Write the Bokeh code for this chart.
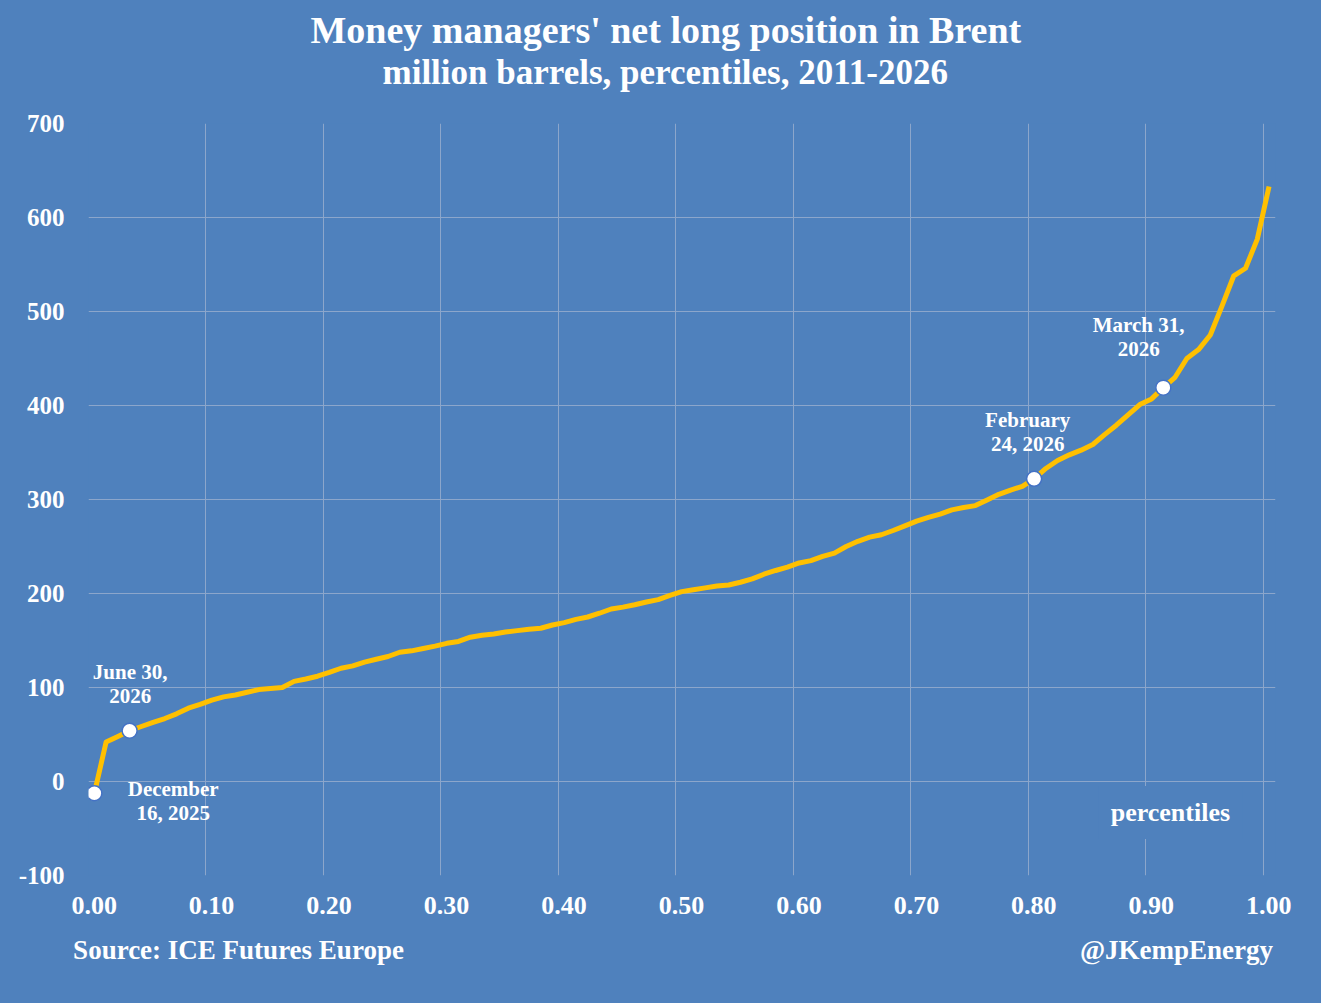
from bokeh.plotting import figure
from bokeh.models import (ColumnDataSource, Label, Title, FixedTicker, LinearAxis,
                          PrintfTickFormatter, Range1d)
from bokeh.embed import file_html
from bokeh.resources import INLINE

# ---------------- data ----------------
percentiles = [
    0.005, 0.015, 0.025, 0.035, 0.045, 0.055, 0.065, 0.075, 0.085, 0.095,
    0.105, 0.115, 0.125, 0.135, 0.145, 0.155, 0.165, 0.175, 0.185, 0.195,
    0.205, 0.215, 0.225, 0.235, 0.245, 0.255, 0.265, 0.275, 0.285, 0.295,
    0.305, 0.315, 0.325, 0.335, 0.345, 0.355, 0.365, 0.375, 0.385, 0.395,
    0.405, 0.415, 0.425, 0.435, 0.445, 0.455, 0.465, 0.475, 0.485, 0.495,
    0.505, 0.515, 0.525, 0.535, 0.545, 0.555, 0.565, 0.575, 0.585, 0.595,
    0.605, 0.615, 0.625, 0.635, 0.645, 0.655, 0.665, 0.675, 0.685, 0.695,
    0.705, 0.715, 0.725, 0.735, 0.745, 0.755, 0.765, 0.775, 0.785, 0.795,
    0.805, 0.815, 0.825, 0.835, 0.845, 0.855, 0.865, 0.875, 0.885, 0.895,
    0.905, 0.915, 0.925, 0.935, 0.945, 0.955, 0.965, 0.975, 0.985, 0.995,
    1.005,
]
net_long = [
    -12.5, 42, 48, 54, 58.5, 63, 67, 72, 78, 82,
    86.5, 90, 92, 95, 97.8, 99, 100, 106.5, 109, 112,
    116, 120.5, 123, 127, 130, 133, 137.5, 139, 141.5, 144,
    147, 149, 153.5, 155.5, 157, 159, 160.5, 162, 163, 166.5,
    169, 172.5, 175, 179, 183.5, 185.5, 188, 191, 193.5, 198,
    202, 204, 206, 208, 209, 212, 215.5, 220.5, 224.5, 228,
    232.5, 235, 239.5, 243, 250, 255.5, 260, 262.5, 267, 272,
    277, 281, 284.5, 289, 291.5, 293.5, 299.5, 305.5, 310, 314,
    322, 333, 341.5, 347.5, 352.5, 358.5, 369, 379, 390, 401,
    407, 419, 430, 450, 459.5, 475, 506, 538, 546, 577,
    633,
]
highlight_idx = [0, 3, 80, 91]
highlight_labels = [
    ["December", "16, 2025"],
    ["June 30,", "2026"],
    ["February", "24, 2026"],
    ["March 31,", "2026"],
]
x_ticks = [0.0, 0.1, 0.2, 0.3, 0.4, 0.5, 0.6, 0.7, 0.8, 0.9, 1.0]
y_ticks = [-100, 0, 100, 200, 300, 400, 500, 600, 700]

title_lines = ["Money managers' net long position in Brent",
               "million barrels, percentiles, 2011-2026"]
source_text = "Source: ICE Futures Europe"
handle_text = "@JKempEnergy"
axis_note = "percentiles"

# ---------------- style ----------------
BG = "#4F81BD"
GRID = "#8CA6CB"
LINE = "#FFC000"
FONT = "Liberation Serif"
LEFT, RIGHT, TOP, BOTTOM = 88, 46, 123, 128
W, H = 1321, 1003
X_MIN, X_MAX = 0, 1.0105
LABEL_SHIFT = 0.0048   # tick labels sit slightly right of their gridlines

p = figure(width=W, height=H, output_backend="svg", toolbar_location=None,
           x_range=Range1d(X_MIN, X_MAX), y_range=Range1d(-100, 700),
           min_border_left=LEFT, min_border_right=RIGHT, min_border_top=TOP,
           min_border_bottom=BOTTOM)
p.background_fill_color = BG
p.border_fill_color = None      # transparent border (page background is BG)
p.outline_line_color = None

# ---- title: spacer + two lines (first added sits closest to the plot)
p.add_layout(Title(text=" ", standoff=19, text_font_size="10px",
                   text_color=BG), "above")
p.add_layout(Title(text=title_lines[1], align="left", offset=294, standoff=0,
                   text_color="white", text_font=FONT, text_font_style="bold",
                   text_font_size="35px"), "above")
p.add_layout(Title(text=title_lines[0], align="left", offset=222, standoff=0,
                   text_color="white", text_font=FONT, text_font_style="bold",
                   text_font_size="38px"), "above")

p.extra_x_ranges = {"labels": Range1d(X_MIN - LABEL_SHIFT, X_MAX - LABEL_SHIFT),
                    "page": Range1d(LEFT, W - RIGHT)}

for ax in (p.xaxis[0], p.yaxis[0]):
    ax.axis_line_color = None
    ax.major_tick_line_color = None
    ax.minor_tick_line_color = None
    ax.major_tick_out = 0
    ax.major_tick_in = 0
    ax.minor_tick_out = 0
    ax.major_label_text_color = "white"
    ax.major_label_text_font = FONT
    ax.major_label_text_font_style = "bold"

p.xaxis[0].x_range_name = "labels"
p.xaxis[0].ticker = FixedTicker(ticks=x_ticks)
p.xaxis[0].formatter = PrintfTickFormatter(format="%.2f")
p.xaxis[0].major_label_text_font_size = "26px"
p.xaxis[0].major_label_standoff = 21

p.yaxis[0].ticker = FixedTicker(ticks=y_ticks)
p.yaxis[0].formatter = PrintfTickFormatter(format="%d")
p.yaxis[0].major_label_text_font_size = "25px"
p.yaxis[0].major_label_standoff = 24

p.xgrid[0].ticker = FixedTicker(ticks=x_ticks)
p.ygrid[0].ticker = FixedTicker(ticks=y_ticks)
for g in (p.xgrid[0], p.ygrid[0]):
    g.grid_line_color = GRID
    g.grid_line_width = 1

# ---- footer: a second bottom axis in page-pixel units carrying the two notes
footer_pos = {238: source_text, 1176: handle_text}
foot_axis = LinearAxis(x_range_name="page",
                       ticker=FixedTicker(ticks=list(footer_pos.keys())),
                       major_label_overrides=footer_pos,
                       major_label_standoff=18,
                       axis_line_color=None, major_tick_line_color=None,
                       minor_tick_line_color=None, major_tick_out=0,
                       major_tick_in=0, minor_tick_out=0,
                       major_label_text_color="white",
                       major_label_text_font=FONT,
                       major_label_text_font_style="bold",
                       major_label_text_font_size="27px")
p.add_layout(foot_axis, "below")

src = ColumnDataSource(dict(x=percentiles, y=net_long))
p.line("x", "y", source=src, line_color=LINE, line_width=5, line_join="round")

hsrc = ColumnDataSource(dict(x=[percentiles[i] for i in highlight_idx],
                             y=[net_long[i] for i in highlight_idx]))
p.scatter("x", "y", source=hsrc, size=15, fill_color="white",
          line_color="#4472C4", line_width=1.5)

# annotation labels near highlighted points: offsets (data units)
label_pos = [(0.0671, -8), (0.0005, 50), (-0.0055, 50), (-0.021, 54)]
for (i, lines, (dx, dy)) in zip(highlight_idx, highlight_labels, label_pos):
    x0 = percentiles[i] + dx
    y0 = net_long[i] + dy
    for k, t in enumerate(lines):
        p.add_layout(Label(x=x0, y=y0, y_offset=12 - 24 * k, text=t,
                           text_align="center", text_baseline="middle",
                           text_color="white", text_font=FONT,
                           text_font_style="bold", text_font_size="21px"))

p.add_layout(Label(x=0.921, y=-33, text=axis_note, text_align="center",
                   text_baseline="middle", text_color="white", text_font=FONT,
                   text_font_style="bold", text_font_size="26px",
                   background_fill_color=BG, padding=12))

html = file_html(p, INLINE)
style = "<style>html, body { background-color: %s !important; }</style>" % BG
if "</head>" in html:
    html = html.replace("</head>", style + "</head>", 1)
else:
    html = style + html
open("out.html", "w").write(html)
